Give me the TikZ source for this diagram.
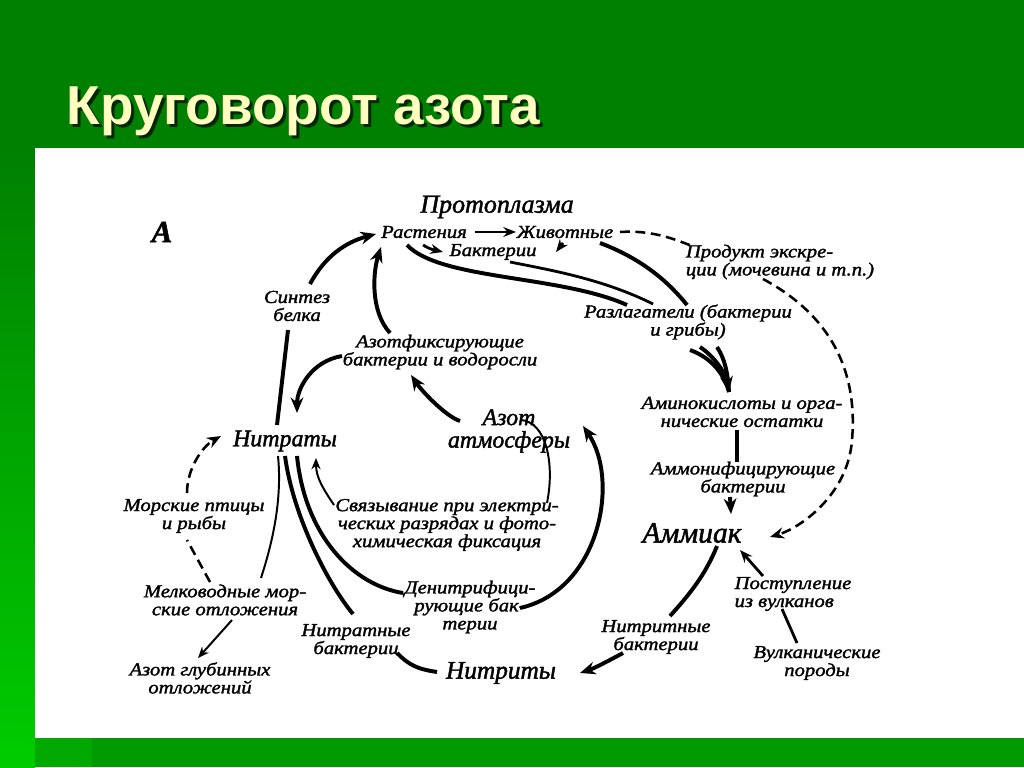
\documentclass[tikz,border=0pt]{standalone}
\usepackage{fontspec}
\usetikzlibrary{arrows.meta}

\newfontfamily\diagfont{Liberation Serif}[FakeStretch=1.13,FakeBold=1.6]
\newfontfamily\bigfont{Liberation Serif}[FakeBold=1.6]
\newfontfamily\titlefont{Liberation Sans}

\definecolor{slidegreen}{HTML}{008000}
\definecolor{brightgreen}{HTML}{00CC00}
\definecolor{bandgreen}{HTML}{009900}
\definecolor{titlecream}{HTML}{FFFFC0}

\tikzset{
  lbl/.style={font=\diagfont\itshape\fontsize{13}{12.8}\selectfont, align=center, inner sep=1pt},
  biglbl/.style={font=\bigfont\itshape\fontsize{17}{16}\selectfont, align=center, inner sep=1pt},
  heavyline/.style={line width=2.8pt},
  midline/.style={line width=2pt},
  lightline/.style={line width=1.4pt},
  dashedline/.style={line width=1.8pt, dash pattern=on 7pt off 4pt},
  heavyarrow/.style={heavyline, -{Stealth[length=11pt,width=9pt]}},
  midarrow/.style={midline, -{Stealth[length=9pt,width=7pt]}},
  lightarrow/.style={lightline, -{Stealth[length=8pt,width=6.5pt]}},
  dashedarrow/.style={dashedline, -{Stealth[length=10pt,width=8pt]}}
}

\begin{document}
\begin{tikzpicture}[x=0.25mm, y=-0.25mm]
    \useasboundingbox (0,0) rectangle (1024,767);
    % slide background
    \fill[slidegreen] (0,0) rectangle (1024,767);
    \shade[top color=slidegreen, bottom color=brightgreen] (0,148) rectangle (35,767);
    \fill[bandgreen] (35,738) rectangle (1024,767);
    \fill[bandgreen!70!brightgreen] (35,738) rectangle (92,767);
    \fill[white] (35,148) rectangle (1024,738);
    \node[anchor=base west, text=black!85!green, font=\titlefont\bfseries\fontsize{39}{40}\selectfont] (shadow) at (65,128) {Круговорот азота};
    \node[anchor=base west, text=titlecream, font=\titlefont\bfseries\fontsize{39}{40}\selectfont] (title) at (62,125) {Круговорот азота};

    % labels
    \node[font=\bigfont\bfseries\itshape\fontsize{22}{22}\selectfont] (mark) at (162,232) {А};
    \node[biglbl, font=\bigfont\itshape\fontsize{18.5}{18}\selectfont] (proto) at (497,207) {Протоплазма};
    \node[lbl] (rast) at (424,232) {Растения};
    \node[lbl] (zhiv) at (565,232) {Животные};
    \node[lbl] (bakt) at (493,252) {Бактерии};
    \node[lbl, align=left] (produkt) at (780,262) {Продукт экскре-\\ции (мочевина и т.п.)};
    \node[lbl] (razl) at (688,322) {Разлагатели (бактерии\\и грибы)};
    \node[lbl] (sintez) at (297,306) {Синтез\\белка};
    \node[lbl] (azotfix) at (440,352) {Азотфиксирующие\\бактерии и водоросли};
    \node[biglbl] (nitraty) at (285,441) {Нитраты};
    \node[biglbl] (azot) at (509,431) {Азот\\атмосферы};
    \node[lbl] (amino) at (742,412) {Аминокислоты и орга-\\нические остатки};
    \node[lbl] (ammonif) at (743,479) {Аммонифицирующие\\бактерии};
    \node[biglbl, font=\bigfont\itshape\fontsize{21}{21}\selectfont] (ammiak) at (692,533) {Аммиак};
    \node[lbl] (morskie) at (194,516) {Морские птицы\\и рыбы};
    \node[lbl] (svyaz) at (447,525) {Связывание при электри-\\ческих разрядах и фото-\\химическая фиксация};
    \node[lbl] (denitr) at (470,607) {Денитрифици-\\рующие бак-\\терии};
    \node[lbl] (melk) at (225,600) {Мелководные мор-\\ские отложения};
    \node[lbl] (nitratbakt) at (356,641) {Нитратные\\бактерии};
    \node[biglbl, font=\bigfont\itshape\fontsize{18}{18}\selectfont] (nitrity) at (501,673) {Нитриты};
    \node[lbl] (nitritbakt) at (656,637) {Нитритные\\бактерии};
    \node[lbl, align=left] (postup) at (793,594) {Поступление\\из вулканов};
    \node[lbl] (vulk) at (817,663) {Вулканические\\породы};
    \node[lbl] (glub) at (200,678) {Азот глубинных\\отложений};

    % protoplasm
    \draw[midarrow] ([shift={(51,0)}]rast.center) -- ([shift={(-49,0)}]zhiv.center);
    \draw[midarrow] ([shift={(-1,13)}]rast.center) .. controls +(8,5) and +(-8,-2) .. ([shift={(-50,0)}]bakt.center);
    \draw[midarrow] ([shift={(-2,11)}]zhiv.center) -- ([shift={(63,0)}]bakt.center);
    \draw[heavyline] ([shift={(-17,13)}]rast.center) .. controls +(33,35) and +(-67,-30) .. ([shift={(-61,-17)}]razl.center);
    \draw[midline] ([shift={(17,10)}]bakt.center) .. controls +(40,8) and +(-50,-25) .. ([shift={(-35,-18)}]razl.center);
    \draw[heavyline] ([shift={(35,11)}]zhiv.center) .. controls +(40,15) and +(-20,-25) .. ([shift={(-1,-17)}]razl.center);
    \draw[dashedline] ([shift={(55,0)}]zhiv.center) .. controls +(30,-2) and +(-20,-8) .. ([shift={(-88,-16)}]produkt.center);
    \draw[dashedarrow] ([shift={(-17,17)}]produkt.center) .. controls +(67,36) and +(6,-70) .. (852,440)
        .. controls +(-4,55) and +(30,-9) .. ([shift={(78,4)}]ammiak.center);

    % decomposition
    \draw[heavyline] ([shift={(2,28)}]razl.center) .. controls +(22,8) and +(-5,-18) .. ([shift={(-13,-20)}]amino.center);
    \draw[heavyarrow] ([shift={(12,25)}]razl.center) .. controls +(15,10) and +(-3,-18) .. ([shift={(-13,-20)}]amino.center);
    \draw[heavyline] ([shift={(29,25)}]razl.center) .. controls +(8,12) and +(-1,-18) .. ([shift={(-13,-20)}]amino.center);
    \draw[heavyline] ([shift={(-5,18)}]amino.center) -- ([shift={(-6,-17)}]ammonif.center);
    \draw[heavyarrow] ([shift={(-13,18)}]ammonif.center) -- ([shift={(39,-19)}]ammiak.center);
    \draw[midarrow] ([shift={(-30,-18)}]postup.center) -- ([shift={(48,17)}]ammiak.center);
    \draw[midline] ([shift={(-20,-20)}]vulk.center) -- ([shift={(-11,15)}]postup.center);

    % nitrification
    \draw[heavyline] ([shift={(25,13)}]ammiak.center) .. controls +(-12,30) and +(18,-20) .. ([shift={(14,-21)}]nitritbakt.center);
    \draw[heavyarrow] ([shift={(-33,16)}]nitritbakt.center) .. controls +(-15,8) and +(15,-5) .. ([shift={(79,0)}]nitrity.center);
    \draw[heavyline] ([shift={(41,12)}]nitratbakt.center) .. controls +(12,12) and +(-20,-3) .. ([shift={(-64,-1)}]nitrity.center);
    \draw[heavyline] ([shift={(0,15)}]nitraty.center) .. controls +(8,60) and +(-25,-30) .. ([shift={(-3,-27)}]nitratbakt.center);

    % uptake by plants
    \draw[heavyline] ([shift={(-8,-16)}]nitraty.center) -- ([shift={(-9,24)}]sintez.center);
    \draw[heavyarrow] ([shift={(13,-22)}]sintez.center) .. controls +(15,-28) and +(-30,8) .. ([shift={(-48,2)}]rast.center);

    % fixation
    \draw[heavyarrow] ([shift={(-50,-19)}]azotfix.center) .. controls +(-20,-22) and +(-8,25) .. ([shift={(-43,15)}]rast.center);
    \draw[heavyarrow] ([shift={(-98,4)}]azotfix.center) .. controls +(-30,5) and +(0,-25) .. ([shift={(12,-28)}]nitraty.center);
    \draw[heavyarrow] ([shift={(-49,-10)}]azot.center) .. controls +(-15,-5) and +(10,15) .. ([shift={(-29,23)}]azotfix.center);
    \draw[lightline] ([shift={(12,-11)}]azot.center) .. controls +(25,2) and +(8,-40) .. ([shift={(100,-22)}]svyaz.center);
    \draw[lightarrow] ([shift={(-113,-20)}]svyaz.center) .. controls +(-10,-15) and +(0,20) .. ([shift={(31,17)}]nitraty.center);

    % denitrification
    \draw[heavyline] ([shift={(12,15)}]nitraty.center) .. controls +(8,80) and +(-50,-8) .. ([shift={(-67,-14)}]denitr.center);
    \draw[heavyarrow] ([shift={(50,1)}]denitr.center) .. controls +(80,-18) and +(37,54) .. ([shift={(74,-5)}]azot.center);

    % sea
    \draw[lightline] ([shift={(-7,15)}]nitraty.center) .. controls +(5,50) and +(8,-25) .. ([shift={(36,-22)}]melk.center);
    \draw[dashedarrow] ([shift={(-7,-23)}]morskie.center) .. controls +(0,-25) and +(-18,10) .. ([shift={(-64,-5)}]nitraty.center);
    \draw[dashedline] ([shift={(-15,-18)}]melk.center) -- ([shift={(-7,24)}]morskie.center);
    \draw[lightarrow] ([shift={(7,20)}]melk.center) -- ([shift={(-2,-20)}]glub.center);
\end{tikzpicture}
\end{document}
